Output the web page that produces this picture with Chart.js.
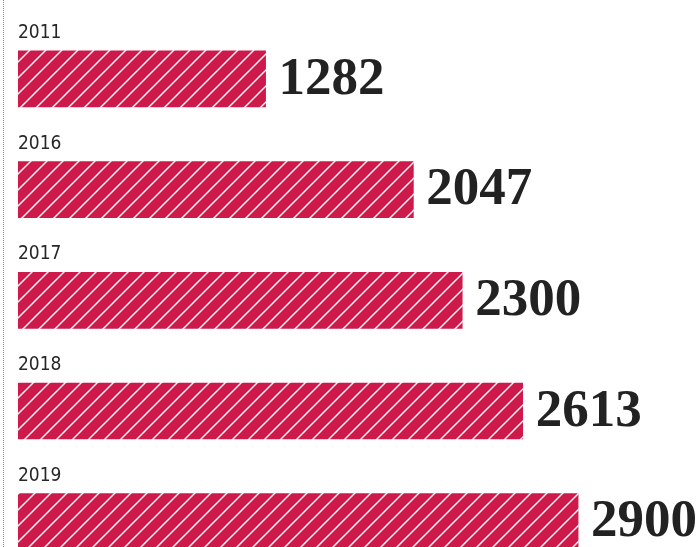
<!DOCTYPE html>
<html>
<head>
<meta charset="utf-8">
<script src="https://cdn.jsdelivr.net/npm/chart.js@4/dist/chart.umd.min.js"></script>
<style>
  html, body { margin: 0; padding: 0; background: #ffffff; overflow: hidden; }
  #wrap { position: relative; width: 697px; height: 547px; overflow: hidden; }
  #c { display: block; }
</style>
</head>
<body>
<div id="wrap"><canvas id="c" width="697" height="600"></canvas></div>
<script>
const years = ["2011", "2016", "2017", "2018", "2019"];
const visitors = [1282, 2047, 2300, 2613, 2900];
const barColor = "#cd1a4b";

function makeHatch() {
  const s = 16;
  const t = document.createElement("canvas");
  t.width = s; t.height = s;
  const g = t.getContext("2d");
  g.fillStyle = barColor;
  g.fillRect(0, 0, s, s);
  g.strokeStyle = "#ffffff";
  g.lineWidth = 1.4;
  g.beginPath();
  g.moveTo(-2, s + 2); g.lineTo(s + 2, -2);
  g.moveTo(-2, 2); g.lineTo(2, -2);
  g.moveTo(s - 2, s + 2); g.lineTo(s + 2, s - 2);
  g.stroke();
  return document.getElementById("c").getContext("2d").createPattern(t, "repeat");
}

const labelPlugin = {
  id: "labels",
  beforeDraw(chart) {
    const ctx = chart.ctx;
    ctx.save();
    ctx.strokeStyle = "#8a8a8a";
    ctx.lineWidth = 1;
    ctx.setLineDash([1, 1]);
    ctx.beginPath();
    ctx.moveTo(3.5, 0);
    ctx.lineTo(3.5, chart.height);
    ctx.stroke();
    ctx.restore();
  },
  afterDatasetsDraw(chart) {
    const ctx = chart.ctx;
    const meta = chart.getDatasetMeta(0);
    ctx.save();
    meta.data.forEach((bar, i) => {
      const top = bar.y - bar.height / 2;
      ctx.fillStyle = "#262626";
      ctx.font = '19px "Liberation Sans Narrow", "DejaVu Sans Condensed", sans-serif';
      ctx.textAlign = "left";
      ctx.textBaseline = "middle";
      ctx.fillText(years[i], chart.chartArea.left, top - 18);
      ctx.fillStyle = "#222222";
      ctx.font = 'bold 53px "Liberation Serif", "DejaVu Serif", serif';
      ctx.textBaseline = "middle";
      ctx.fillText(String(visitors[i]), bar.x + 13, bar.y + 1);
    });
    ctx.restore();
  }
};

new Chart(document.getElementById("c"), {
  type: "bar",
  data: {
    labels: years,
    datasets: [{
      data: visitors,
      backgroundColor: makeHatch(),
      borderWidth: 0,
      barThickness: 56
    }]
  },
  options: {
    indexAxis: "y",
    responsive: false,
    animation: false,
    events: [],
    layout: { padding: { left: 18, right: 3, top: 23.6, bottom: 23 } },
    plugins: { legend: { display: false }, tooltip: { enabled: false } },
    scales: {
      x: { display: false, min: 0, max: 3500, grid: { display: false } },
      y: { display: false, grid: { display: false } }
    }
  },
  plugins: [labelPlugin]
});
</script>
</body>
</html>
